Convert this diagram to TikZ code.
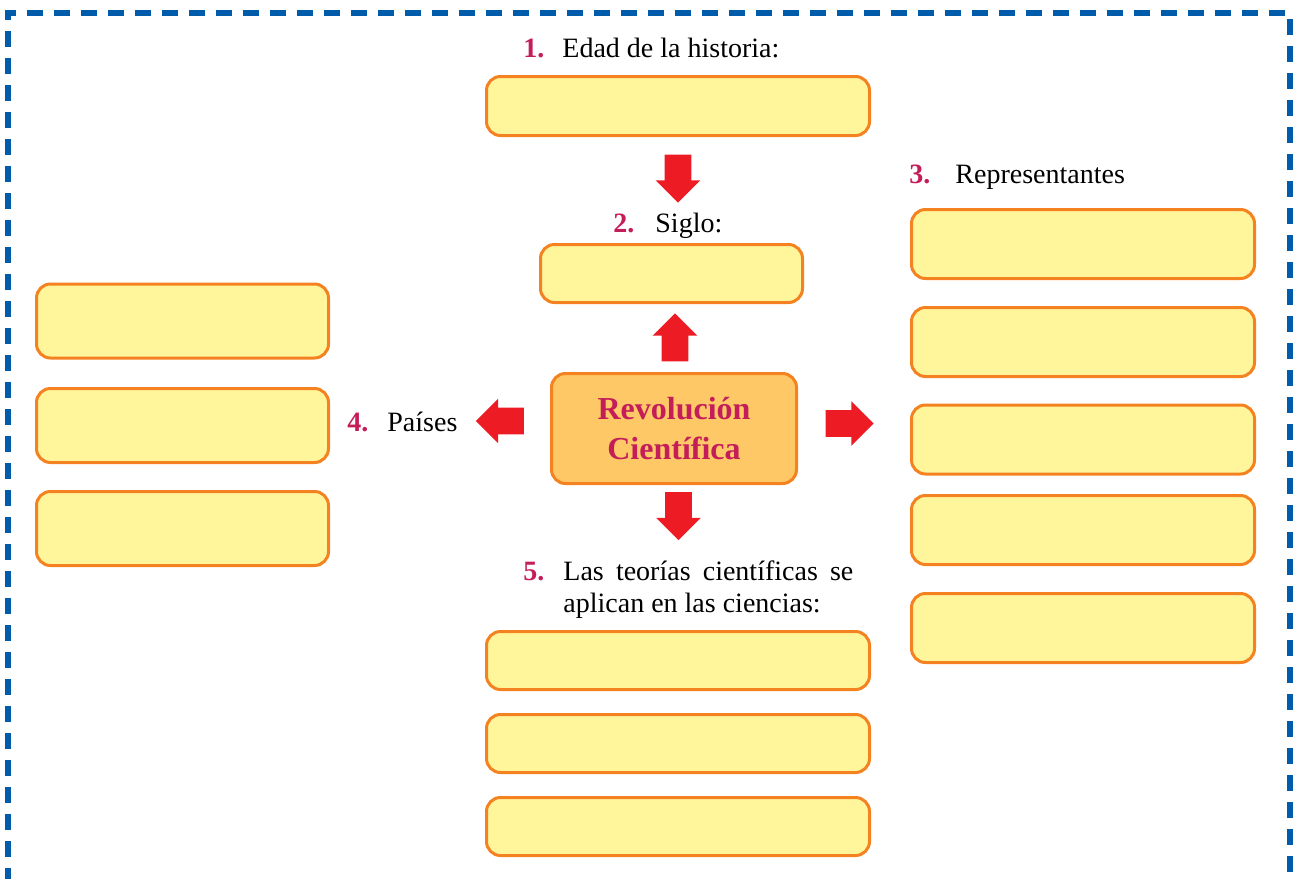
\documentclass[tikz,border=0pt]{standalone}
\usepackage{fontspec}
\setmainfont{Liberation Serif}
\usetikzlibrary{shapes.arrows}

\definecolor{frameblue}{RGB}{0,91,170}
\definecolor{boxfill}{RGB}{255,245,155}
\definecolor{boxline}{RGB}{245,130,32}
\definecolor{corefill}{RGB}{253,200,101}
\definecolor{numred}{RGB}{196,30,90}
\definecolor{arrowred}{RGB}{237,28,36}

\begin{document}
\begin{tikzpicture}[
    x=0.5pt, y=-0.5pt,
    blank/.style={draw=boxline, fill=boxfill, line width=1.5pt, rounded corners=7pt, inner sep=0pt},
    core/.style={draw=boxline, fill=corefill, line width=1.5pt, rounded corners=7pt, align=center,
        font=\fontsize{16}{20}\selectfont\bfseries, text=numred},
    bigarrow/.style={single arrow, fill=arrowred, inner sep=6.5pt, minimum height=24pt, single arrow head extend=4.5pt},
    txt/.style={font=\fontsize{14}{16}\selectfont, anchor=base west, inner sep=0pt},
    numb/.style={txt, font=\fontsize{14}{16}\selectfont\bfseries, text=numred},
    frame/.style={draw=frameblue, line width=3pt, dash pattern=on 8pt off 5.5pt}
]
\useasboundingbox (0,0) rectangle (1297,879);

% Dashed frame, open at the bottom
\draw[frame, dash phase=4.25pt] (8,12.5) -- (8,879);
\draw[frame, dash phase=2.5pt] (5,12.5) -- (1289.5,12.5) -- (1289.5,879);

% Centre
\node[core, minimum width=122.5pt, minimum height=55pt] (rev) at (674,428.5) {Revolución\\Científica};

% 1. Edad
\node[numb] (n1) at (523,57.5) {1.};
\node[txt] (t1) at (562,57.5) {Edad de la historia:};
\node[blank, minimum width=191.5pt, minimum height=29.5pt] (edad) at (678,106) {};
\node[bigarrow, shape border rotate=270] (a1) at (678,172) {};

% 2. Siglo
\node[numb] (n2) at (613,232) {2.};
\node[txt] (t2) at (655,232) {Siglo:};
\node[blank, minimum width=131pt, minimum height=29pt] (siglo) at (671.5,273.5) {};
\node[bigarrow, shape border rotate=90] (a2) at (675,344) {};

% 3. Representantes
\node[bigarrow] (a3) at (843,423.5) {};
\node[numb] (n3) at (909,183) {3.};
\node[txt] (t3) at (955,183) {Representantes};
\foreach \yy [count=\i] in {244,342,439.5,530,628}
    \node[blank, minimum width=171.5pt, minimum height=34.5pt] (rep\i) at (1083,\yy) {};

% 4. Paises
\node[bigarrow, shape border rotate=180] (a4) at (506.5,421) {};
\node[numb] (n4) at (347,431) {4.};
\node[txt] (t4) at (387,431) {Países};
\foreach \yy [count=\i] in {321,425.5,528.5}
    \node[blank, minimum width=146pt, minimum height=37pt] (pais\i) at (182.5,\yy) {};

% 5. Ciencias
\node[bigarrow, shape border rotate=270] (a5) at (678.5,509.5) {};
\node[numb] (n5) at (523,580) {5.};
\node[txt, text width=145pt, align=justify] (t5) at (563,580) {Las teorías científicas se\linebreak aplican en las ciencias:};
\foreach \yy [count=\i] in {660.5,743.5,826.5}
    \node[blank, minimum width=191.5pt, minimum height=29pt] (cien\i) at (678,\yy) {};

\end{tikzpicture}
\end{document}
